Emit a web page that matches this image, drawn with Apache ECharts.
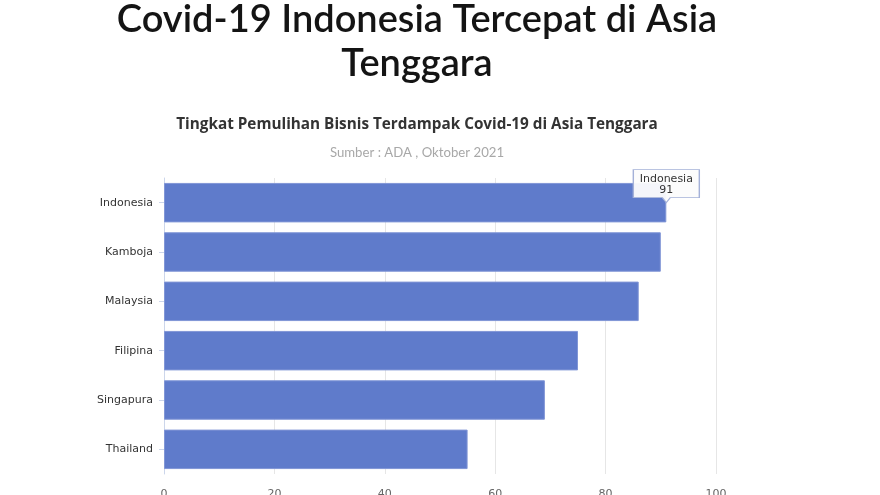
<!DOCTYPE html>
<html>
<head>
<meta charset="utf-8">
<script src="https://cdn.jsdelivr.net/npm/echarts@6/dist/echarts.min.js"></script>
<style>
html,body{margin:0;padding:0;background:#fff;}
#chart{width:880px;height:495px;}
</style>
</head>
<body>
<div id="chart"></div>
<script>
var headline = "Covid-19 Indonesia Tercepat di Asia\nTenggara";
var chartTitle = "Tingkat Pemulihan Bisnis Terdampak Covid-19 di Asia Tenggara";
var chartSource = "Sumber : ADA , Oktober 2021";
var countries = ["Indonesia", "Kamboja", "Malaysia", "Filipina", "Singapura", "Thailand"];
var recovery = [91, 90, 86, 75, 69, 55];
var xTicks = [0, 20, 40, 60, 80, 100];
var highlighted = "Indonesia";

var chart = echarts.init(document.getElementById('chart'), null, {renderer: 'canvas'});
var hiIndex = countries.indexOf(highlighted);

chart.setOption({
  animation: false,
  backgroundColor: '#ffffff',
  title: [
    {
      text: headline,
      left: 412,
      textAlign: 'center',
      top: -7,
      textStyle: {fontFamily: 'Lato', fontWeight: 600, fontSize: 38, lineHeight: 44, color: '#141414'}
    },
    {
      text: chartTitle,
      left: 412,
      textAlign: 'center',
      top: 112,
      textStyle: {fontFamily: 'Open Sans', fontWeight: 'bold', fontSize: 15.3, color: '#333333'}
    },
    {
      text: chartSource,
      left: 412,
      textAlign: 'center',
      top: 141,
      textStyle: {fontFamily: 'Lato', fontWeight: 'normal', fontSize: 13.2, color: '#a8a8a8'}
    }
  ],
  grid: {left: 164, right: 164, top: 178, bottom: 21, containLabel: false, outerBoundsMode: 'none'},
  xAxis: {
    type: 'value',
    min: xTicks[0],
    max: xTicks[xTicks.length - 1],
    interval: xTicks[1] - xTicks[0],
    axisLine: {show: false},
    axisTick: {show: false},
    splitLine: {show: true, lineStyle: {color: '#e6e6e6', width: 1}},
    axisLabel: {margin: 15, fontFamily: 'DejaVu Sans', fontSize: 11, color: '#666666'}
  },
  yAxis: {
    type: 'category',
    data: countries,
    inverse: true,
    axisLine: {show: true, lineStyle: {color: '#ccd6eb'}},
    axisTick: {show: true, alignWithLabel: true, length: 5, lineStyle: {color: '#ccd6eb'}},
    axisLabel: {margin: 11, fontFamily: 'DejaVu Sans', fontSize: 11, color: '#333333'}
  },
  series: [{
    type: 'bar',
    data: recovery,
    barCategoryGap: '20%',
    itemStyle: {color: '#5f7bcb', borderColor: '#8196d6', borderWidth: 1},
    markPoint: {
      symbol: 'path://M0,0 L66,0 L66,28 L37,28 L33,33 L29,28 L0,28 Z',
      symbolSize: [66, 33],
      symbolOffset: [0, -16.5],
      silent: true,
      itemStyle: {color: 'rgba(252,252,252,0.95)', borderColor: '#a4b1d8', borderWidth: 1},
      label: {
        show: true,
        position: 'inside',
        offset: [0, -2],
        formatter: function (p) { return p.name + '\n' + p.value; },
        fontFamily: 'DejaVu Sans',
        fontSize: 11,
        lineHeight: 11,
        color: '#333333'
      },
      data: [{name: highlighted, coord: [recovery[hiIndex], highlighted], value: recovery[hiIndex]}]
    }
  }]
});
</script>
</body>
</html>
